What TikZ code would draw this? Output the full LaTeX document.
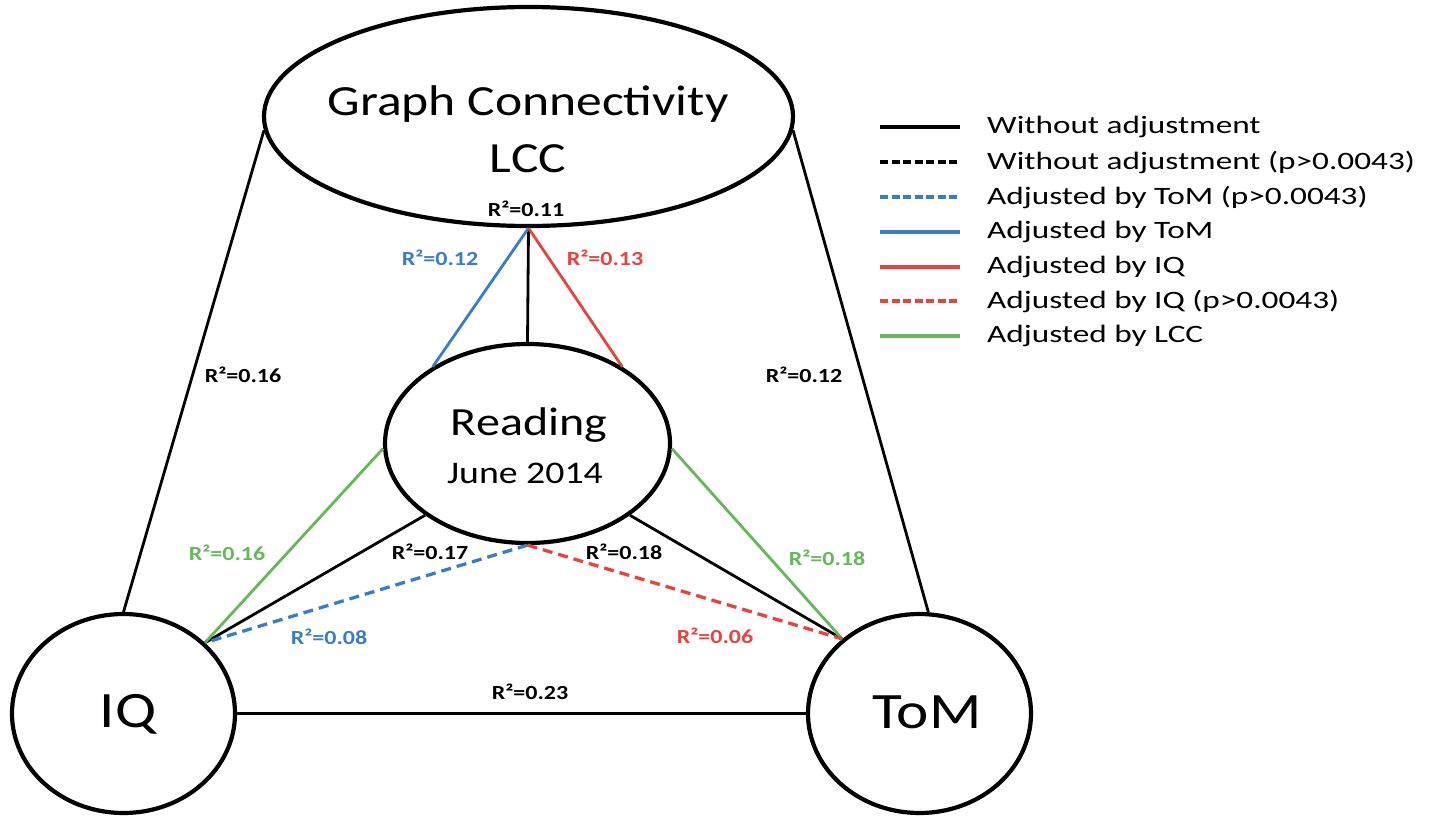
\documentclass[tikz,border=0pt]{standalone}
\usepackage{fontspec}
\setmainfont{Carlito}[FakeStretch=1.2]
\newfontfamily\legendfont{Carlito}[FakeStretch=1.33]
\usetikzlibrary{shapes.geometric}

\definecolor{adjblue}{RGB}{58,125,199}
\definecolor{adjred}{RGB}{233,67,62}
\definecolor{adjgreen}{RGB}{99,185,86}

\tikzset{
  var/.style={ellipse, draw, line width=4.2pt, inner sep=0pt},
  vartext/.style={anchor=base, inner sep=0pt},
  link/.style={line width=2.8pt},
  nosig/.style={line width=3.3pt, dash pattern=on 10pt off 6pt},
  rsq/.style={font=\fontsize{20}{22}\selectfont\bfseries, inner sep=0pt},
  legline/.style={line width=3.2pt},
  legdash/.style={line width=3.2pt, dash pattern=on 8pt off 3.5pt},
  legtext/.style={font=\legendfont\fontsize{25}{28}\selectfont, anchor=west, inner sep=0pt}
}

\begin{document}
\begin{tikzpicture}[x=1pt, y=-1pt]
\useasboundingbox (0,0) rectangle (1435,817);

% variables
\node[var, minimum width=529pt, minimum height=219pt] (lcc) at (528.5,116.5) {};
\node[var, minimum width=285pt, minimum height=199pt] (reading) at (527.5,443.5) {};
\node[var, minimum width=223pt, minimum height=199pt] (IQ) at (123.5,713.5) {};
\node[var, minimum width=223pt, minimum height=199pt] (ToM) at (919.5,713.5) {};

\node[vartext, font=\fontsize{43}{50}\selectfont] (lccA) at (528,115) {Graph Connectivity};
\node[vartext, font=\fontsize{43}{50}\selectfont] (lccB) at (528,172) {LCC};
\node[vartext, font=\fontsize{40}{46}\selectfont] (readA) at (529,435) {Reading};
\node[vartext, font=\fontsize{31.5}{36}\selectfont] (readB) at (525,483) {June 2014};
\node[vartext, font=\fontsize{51}{58}\selectfont] (IQt) at (128,727) {IQ};
\node[vartext, font=\fontsize{51}{58}\selectfont] (ToMt) at (927,728) {ToM};

% connections without adjustment
\draw[link] (lcc.183) -- (IQ.north);
\draw[link] (lcc.-3) -- (ToM.85);
\draw[link] (lcc.south) -- (reading.north);
\draw[link] (reading.215) -- (IQ.41);
\draw[link] (reading.325) -- (ToM.136.5);
\draw[link] (IQ.east) -- (ToM.west);

% adjusted connections
\draw[link, adjblue] (lcc.south) -- (reading.141);
\draw[link, adjred] (lcc.south) -- (reading.39);
\draw[link, adjgreen] (reading.182) -- (IQ.41);
\draw[link, adjgreen] (reading.-2) -- (ToM.136.5);
\draw[nosig, adjblue] (reading.south) -- (IQ.41);
\draw[nosig, adjred] (reading.south) -- (ToM.136.5);

% coefficients
\node[rsq] (r1) at (526,209) {R²=0.11};
\node[rsq, adjblue] (r2) at (440,258) {R²=0.12};
\node[rsq, adjred] (r3) at (605,258) {R²=0.13};
\node[rsq] (r4) at (243,375) {R²=0.16};
\node[rsq] (r5) at (804,375) {R²=0.12};
\node[rsq, adjgreen] (r6) at (227,553) {R²=0.16};
\node[rsq] (r7) at (430,552) {R²=0.17};
\node[rsq] (r8) at (624,552) {R²=0.18};
\node[rsq, adjgreen] (r9) at (827,558) {R²=0.18};
\node[rsq, adjblue] (r10) at (329,637) {R²=0.08};
\node[rsq, adjred] (r11) at (715,636) {R²=0.06};
\node[rsq] (r12) at (530,692) {R²=0.23};

% legend
\coordinate (la1) at (880,127); \coordinate (lb1) at (960,127);
\coordinate (la2) at (880,162); \coordinate (lb2) at (960,162);
\coordinate (la3) at (880,197); \coordinate (lb3) at (960,197);
\coordinate (la4) at (880,232); \coordinate (lb4) at (960,232);
\coordinate (la5) at (880,267); \coordinate (lb5) at (960,267);
\coordinate (la6) at (880,301); \coordinate (lb6) at (960,301);
\coordinate (la7) at (880,336); \coordinate (lb7) at (960,336);
\draw[legline] (la1) -- (lb1);
\draw[legdash] (la2) -- (lb2);
\draw[legdash, adjblue] (la3) -- (lb3);
\draw[legline, adjblue] (la4) -- (lb4);
\draw[legline, adjred] (la5) -- (lb5);
\draw[legdash, adjred] (la6) -- (lb6);
\draw[legline, adjgreen] (la7) -- (lb7);
\node[legtext] (lt1) at (987,127) {Without adjustment};
\node[legtext] (lt2) at (987,162) {Without adjustment (p>0.0043)};
\node[legtext] (lt3) at (987,197) {Adjusted by ToM (p>0.0043)};
\node[legtext] (lt4) at (987,232) {Adjusted by ToM};
\node[legtext] (lt5) at (987,267) {Adjusted by IQ};
\node[legtext] (lt6) at (987,301) {Adjusted by IQ (p>0.0043)};
\node[legtext] (lt7) at (987,336) {Adjusted by LCC};
\end{tikzpicture}
\end{document}
